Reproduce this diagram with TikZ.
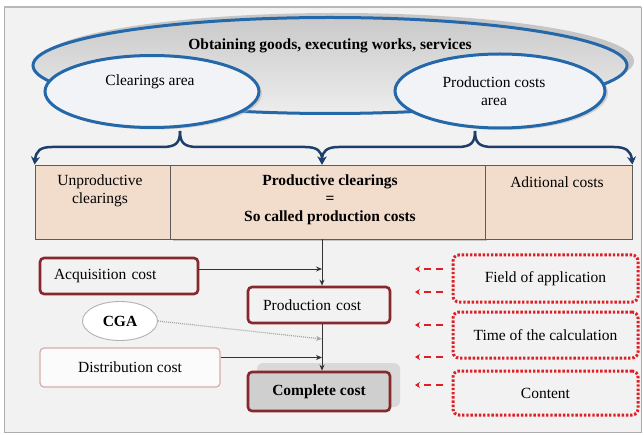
\documentclass[tikz,border=0pt]{standalone}
\usepackage{fontspec}
\setmainfont{Liberation Serif}
\usetikzlibrary{arrows.meta,shapes.geometric,calc,shadows}

\definecolor{framebg}{RGB}{242,242,242}
\definecolor{ellblue}{RGB}{36,104,170}
\definecolor{navy}{RGB}{30,62,108}
\definecolor{peach}{RGB}{242,220,204}
\definecolor{cellline}{RGB}{95,90,88}
\definecolor{maroon}{RGB}{135,40,46}
\definecolor{dotred}{RGB}{222,32,38}
\definecolor{pinkline}{RGB}{215,172,172}
\definecolor{ovalfill}{RGB}{241,243,247}

\begin{document}
\begin{tikzpicture}[x=1pt,y=-1pt,
  font=\fontsize{15.5}{18}\selectfont,
  area/.style={ellipse, draw=ellblue, line width=3pt, fill=ovalfill, inner sep=0pt,
    drop shadow={shadow xshift=3pt, shadow yshift=-2pt, fill=gray!60}},
  brace/.style={draw=navy, line width=2.5pt, -{Stealth[length=8pt,width=9pt]}},
  cell/.style={rectangle, draw=cellline, line width=0.8pt, fill=peach, inner sep=0pt,
    minimum height=74pt},
  costbox/.style={rectangle, rounded corners=4pt, draw=maroon, line width=2.6pt,
    fill=framebg, minimum height=36pt, align=left},
  flow/.style={draw=black!80, line width=1pt, -{Stealth[length=6pt,width=5pt]}},
  hint/.style={draw=dotred, line width=1.6pt, dash pattern=on 7pt off 5pt,
    -{Stealth[length=5pt,width=6pt]}},
  aspect/.style={rectangle, rounded corners=6pt, draw=dotred, line width=3pt,
    dash pattern=on 2.4pt off 1.8pt, fill=framebg, minimum width=185pt}]

% page and panel
\useasboundingbox (0,0) rectangle (644,435);
\fill[white] (0,0) rectangle (644,435);
\draw[gray!65, line width=0.8pt, fill=framebg] (4,7) rectangle (641,432);
\draw[gray!55, line width=2.5pt] (4,7) -- (641,7);

% the overall area
\fill[gray!45] (337,61) ellipse [x radius=297, y radius=48];
\node[ellipse, draw=ellblue, line width=3pt, inner sep=0pt,
  minimum width=594pt, minimum height=96pt,
  top color=gray!42, bottom color=gray!14] (whole) at (330,65.5) {};
\node[font=\fontsize{15.5}{18}\selectfont\bfseries] (wholetext) at (330,46)
  {Obtaining goods, executing works, services};

% the two sub-areas
\node[area, minimum width=214pt, minimum height=72pt] (clear) at (152,91.5) {};
\node (cleartext) at (150,82) {Clearings area};
\node[area, minimum width=210pt, minimum height=74pt] (prodarea) at (500,91) {};
\node[align=center] (prodtext) at (494,91) {Production costs\\area};

% cost categories
\node[cell, minimum width=135pt] (lcell) at (102.5,202) {};
\fill[gray!45] (173,170) rectangle (487,241.5);
\node[cell, minimum width=315pt] (mcell) at (327.5,202) {};
\draw[cellline, line width=1.4pt] (mcell.south west) -- (mcell.south east);
\node[cell, minimum width=147pt] (rcell) at (558.5,202) {};
\node[align=center] (ltext) at (100,191) {Unproductive\\clearings};
\node[align=center, font=\fontsize{15.5}{18}\selectfont\bfseries] (mtext) at (330,200)
  {Productive clearings\\=\\So called production costs};
\node (rtext) at (557,182) {Aditional costs};

% braces
\coordinate (axis) at (322,0);
\coordinate (ltip) at (180,131);
\coordinate (rtip) at (475,131);
\coordinate (midtop) at (mcell.north -| axis);
\draw[brace] (ltip) .. controls (180,143) and (176,147) .. (162,147) -- (52,147)
  .. controls (40,147) and (36,151) .. (lcell.north west);
\draw[brace] (ltip) .. controls (180,143) and (184,147) .. (198,147) -- (305,147)
  .. controls (317,147) and (322,151) .. (midtop);
\draw[brace] (rtip) .. controls (475,143) and (471,147) .. (457,147) -- (339,147)
  .. controls (327,147) and (322,151) .. (midtop);
\draw[brace] (rtip) .. controls (475,143) and (479,147) .. (493,147) -- (614,147)
  .. controls (626,147) and (631,151) .. (rcell.north east);

% cost build-up
\node[costbox, text width=130pt, inner xsep=14pt] (acq) at (119,276) {Acquisition cost};
\node[costbox, text width=112pt, inner xsep=15pt] (prod) at (319,305) {Production cost};
\node[ellipse, draw=gray!60, line width=0.9pt, fill=white, minimum width=75pt,
  minimum height=39pt, inner sep=0pt, font=\fontsize{15.5}{18}\selectfont\bfseries]
  (cga) at (120,321) {CGA};
\node[rectangle, rounded corners=4pt, draw=pinkline, line width=1.2pt, fill=white!97!gray,
  minimum width=180pt, minimum height=39pt] (dist) at (130,367.5) {Distribution cost};
\fill[gray!30, rounded corners=6pt] (257,363) rectangle (400,407);
\node[costbox, fill=gray!38, minimum width=142pt, minimum height=39pt, align=center,
  font=\fontsize{15.5}{18}\selectfont\bfseries] (comp) at (319,391.5) {Complete cost};

\draw[flow] (mcell.south -| axis) -- (prod.north -| axis);
\draw[flow] ([yshift=7pt]acq.east) -- ([yshift=7pt]acq.east -| axis);
\draw[flow] (prod.south -| axis) -- (comp.north -| axis);
\draw[flow, draw=gray!70, densely dotted, line width=1.2pt] (cga.east) -- (322,339);
\draw[flow] ([yshift=10pt]dist.east) -- ([yshift=10pt]dist.east -| axis);

% aspects of the calculation
\node[aspect, minimum height=47pt] (field) at (545.5,278.5) {Field of application};
\node[aspect, minimum height=46pt] (time) at (545.5,335) {Time of the calculation};
\node[aspect, minimum height=44pt] (content) at (545.5,393) {Content};

\foreach \y/\n in {269/a,292/b,325/c,357/d,385/e}{
  \coordinate (hs\n) at (443,\y);
  \coordinate (he\n) at (415,\y);
  \draw[hint] (hs\n) -- (he\n);
}
\end{tikzpicture}
\end{document}
